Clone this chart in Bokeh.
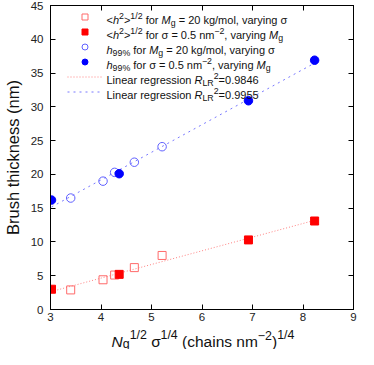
import numpy as np
from bokeh.plotting import figure
from bokeh.layouts import column
from bokeh.models import LinearAxis, FixedTicker, Label, Legend, LegendItem, Range1d
from bokeh.embed import file_html
from bokeh.resources import INLINE

# ---------------- data ----------------
x_vary_sigma = [3.40, 4.04, 4.27, 4.66, 5.21]
rms_vary_sigma = [2.9, 4.4, 5.1, 6.2, 8.0]
h99_vary_sigma = [16.5, 19.0, 20.3, 21.8, 24.1]

x_vary_mg = [3.02, 4.36, 6.92, 8.23]
rms_vary_mg = [3.0, 5.2, 10.3, 13.1]
h99_vary_mg = [16.2, 20.1, 30.9, 36.9]

x_ticks = [3, 4, 5, 6, 7, 8, 9]
y_ticks = [0, 5, 10, 15, 20, 25, 30, 35, 40, 45]
y_title = "Brush thickness (nm)"
r2_rms = "0.9846"
r2_h99 = "0.9955"

# regression lines fitted to the data
def fit(xs, ys):
    k, b = np.polyfit(xs, ys, 1)
    xx = np.array([min(xs), max(xs)])
    return xx, k * xx + b

x_all = x_vary_sigma + x_vary_mg
fx_rms, fy_rms = fit(x_all, rms_vary_sigma + rms_vary_mg)
fx_h99, fy_h99 = fit(x_all, h99_vary_sigma + h99_vary_mg)

# ---------------- layout sizes ----------------
TOTAL_W, TOTAL_H = 358, 349
XSTRIP_H = 24
W, H = TOTAL_W, TOTAL_H - XSTRIP_H
ML, MR, MT, MB = 48, 5, 5, 16
FW, FH = W - ML - MR, H - MT - MB
FONT = "Liberation Sans"

p = figure(width=W, height=H, output_backend="svg", toolbar_location=None,
           x_range=Range1d(3, 9), y_range=Range1d(0, 45),
           min_border_left=ML, min_border_right=MR, min_border_top=MT, min_border_bottom=MB,
           x_axis_type=None, y_axis_type=None)
p.xgrid.visible = False
p.ygrid.visible = False
p.outline_line_color = "black"
p.outline_line_width = 1
p.background_fill_color = "white"
p.border_fill_color = "white"

def make_axis(ticks, show_labels, standoff):
    ax = LinearAxis(ticker=FixedTicker(ticks=ticks))
    ax.major_tick_in = 5
    ax.major_tick_out = 0
    ax.minor_tick_line_color = None
    ax.axis_line_color = "black"
    ax.major_tick_line_color = "black"
    ax.major_label_text_font = FONT
    if show_labels:
        ax.major_label_text_color = "#222222"
        ax.major_label_text_font_size = "11.5px"
        ax.major_label_standoff = standoff
    else:
        ax.major_label_text_color = None
        ax.major_label_text_font_size = "1px"
        ax.major_label_standoff = 0
    return ax

p.add_layout(make_axis(x_ticks, True, 3), "below")
yax = make_axis(y_ticks, True, 7)
yax.axis_label = y_title
yax.axis_label_text_font = FONT
yax.axis_label_text_font_size = "16.5px"
yax.axis_label_text_font_style = "normal"
yax.axis_label_text_color = "#111111"
yax.axis_label_standoff = 6
p.add_layout(yax, "left")
p.add_layout(make_axis(x_ticks, False, 0), "above")
p.add_layout(make_axis(y_ticks, False, 0), "right")

# regression lines
l_rms = p.line(fx_rms, fy_rms, line_color="#ff8080", line_width=1, line_dash="1 2")
l_h99 = p.line(fx_h99, fy_h99, line_color="#7878ff", line_width=1, line_dash="2 4")

# markers
s_rms_sig = p.scatter(x_vary_sigma, rms_vary_sigma, marker="square", size=8,
                      fill_color=None, line_color="#ff6a6a", line_width=1)
s_rms_mg = p.scatter(x_vary_mg, rms_vary_mg, marker="square", size=8,
                     fill_color="#ff0000", line_color="#ff0000")
s_h99_sig = p.scatter(x_vary_sigma, h99_vary_sigma, marker="circle", size=8.5,
                      fill_color=None, line_color="#6060ff", line_width=1)
s_h99_mg = p.scatter(x_vary_mg, h99_vary_mg, marker="circle", size=8.5,
                     fill_color="#0000ff", line_color="#0000ff")

# legend samples (texts are drawn as rich labels below)
ROW = 15
LEG_TOP = 3.5
legend = Legend(items=[
    LegendItem(label=" ", renderers=[s_rms_sig]),
    LegendItem(label=" ", renderers=[s_rms_mg]),
    LegendItem(label=" ", renderers=[s_h99_sig]),
    LegendItem(label=" ", renderers=[s_h99_mg]),
    LegendItem(label=" ", renderers=[l_rms]),
    LegendItem(label=" ", renderers=[l_h99]),
], location=(17, FH - LEG_TOP - 6 * ROW), glyph_width=35, glyph_height=ROW,
   label_height=ROW, label_width=0, label_standoff=0, spacing=0, padding=0, margin=0,
   label_text_font_size="8px", label_text_color=None,
   border_line_alpha=0, background_fill_alpha=0)
p.add_layout(legend)

# ---------------- rich text helper ----------------
NB = "\u00a0"
WID = {' ': 278, NB: 278, '%': 889, '(': 333, ')': 333, ',': 278, '-': 333, '.': 278,
       '/': 278, '<': 584, '=': 584, '>': 584, 'L': 556, 'M': 833, 'N': 722, 'R': 722,
       'B': 667, 'a': 556, 'c': 500, 'e': 556, 'f': 278, 'g': 556, 'h': 556, 'i': 222,
       'k': 500, 'l': 222, 'm': 833, 'n': 556, 'o': 556, 'r': 333, 's': 500, 't': 278,
       'u': 556, 'v': 500, 'w': 722, 'y': 500, '\u03c3': 600, '\u2212': 584}
for d in "0123456789":
    WID[d] = 556

def tw(s, size):
    return sum(WID.get(c, 556) for c in s) * size / 1000.0

def rich(fig, segs, x0, y0, fs, align="left", sup=0.42, sub=0.22):
    parts = []
    for text, kind, it in segs:
        text = text.replace(" ", NB)
        size = fs * (0.8 if kind in ("sup", "sub") else 1.0)
        parts.append((text, kind, it, size, tw(text, size)))
    total = sum(pt[4] for pt in parts)
    x = x0 - total / 2 if align == "center" else x0
    for text, kind, it, size, w in parts:
        dy = sup * fs if kind == "sup" else (-sub * fs if kind == "sub" else 0)
        fig.add_layout(Label(x=x, y=y0 + dy, x_units="screen", y_units="screen", text=text,
                             text_font=FONT, text_font_size=f"{size:.2f}px",
                             text_font_style="italic" if it else "normal",
                             text_baseline="alphabetic", text_align="left",
                             text_color="#111111"))
        x += w

N, SUP, SUB = "n", "sup", "sub"
SIG = "\u03c3"
MIN = "\u2212"
legend_rows = [
    [("<", N, 0), ("h", N, 1), ("2", SUP, 0), (">", N, 0), ("1/2", SUP, 0), (" for ", N, 0),
     ("M", N, 1), ("g", SUB, 0), (" = 20 kg/mol, varying " + SIG, N, 0)],
    [("<", N, 0), ("h", N, 1), ("2", SUP, 0), (">", N, 0), ("1/2", SUP, 0),
     (" for " + SIG + " = 0.5 nm", N, 0), (MIN + "2", SUP, 0), (", varying ", N, 0),
     ("M", N, 1), ("g", SUB, 0)],
    [("h", N, 1), ("99%", SUB, 0), (" for ", N, 0), ("M", N, 1), ("g", SUB, 0),
     (" = 20 kg/mol, varying " + SIG, N, 0)],
    [("h", N, 1), ("99%", SUB, 0), (" for " + SIG + " = 0.5 nm", N, 0), (MIN + "2", SUP, 0),
     (", varying ", N, 0), ("M", N, 1), ("g", SUB, 0)],
    [("Linear regression ", N, 0), ("R", N, 1), ("LR", SUB, 0), ("2", SUP, 0), ("=" + r2_rms, N, 0)],
    [("Linear regression ", N, 0), ("R", N, 1), ("LR", SUB, 0), ("2", SUP, 0), ("=" + r2_h99, N, 0)],
]
LFS = 11
for i, segs in enumerate(legend_rows):
    center = LEG_TOP + ROW * i + ROW / 2
    rich(p, segs, 56, FH - (center + 0.36 * LFS), LFS)

# x axis title strip (bottom); the column aligns its frame with the main frame
xstrip = figure(width=TOTAL_W, height=XSTRIP_H, output_backend="svg", toolbar_location=None,
                x_range=Range1d(0, 1), y_range=Range1d(0, 1), min_border=0,
                x_axis_type=None, y_axis_type=None)
xstrip.xgrid.visible = False
xstrip.ygrid.visible = False
xstrip.outline_line_color = None

XFS = 15.5
rich(xstrip, [("N", N, 1), ("g", SUB, 0), ("1/2", SUP, 0), (" " + SIG, N, 0), ("1/4", SUP, 0),
              (" (chains nm", N, 0), (MIN + "2", SUP, 0), (")", N, 0), ("1/4", SUP, 0)],
     FW / 2, 8.5, XFS, align="center", sup=0.38, sub=0.18)

layout = column(p, xstrip)
open("out.html", "w").write(file_html(layout, INLINE))
